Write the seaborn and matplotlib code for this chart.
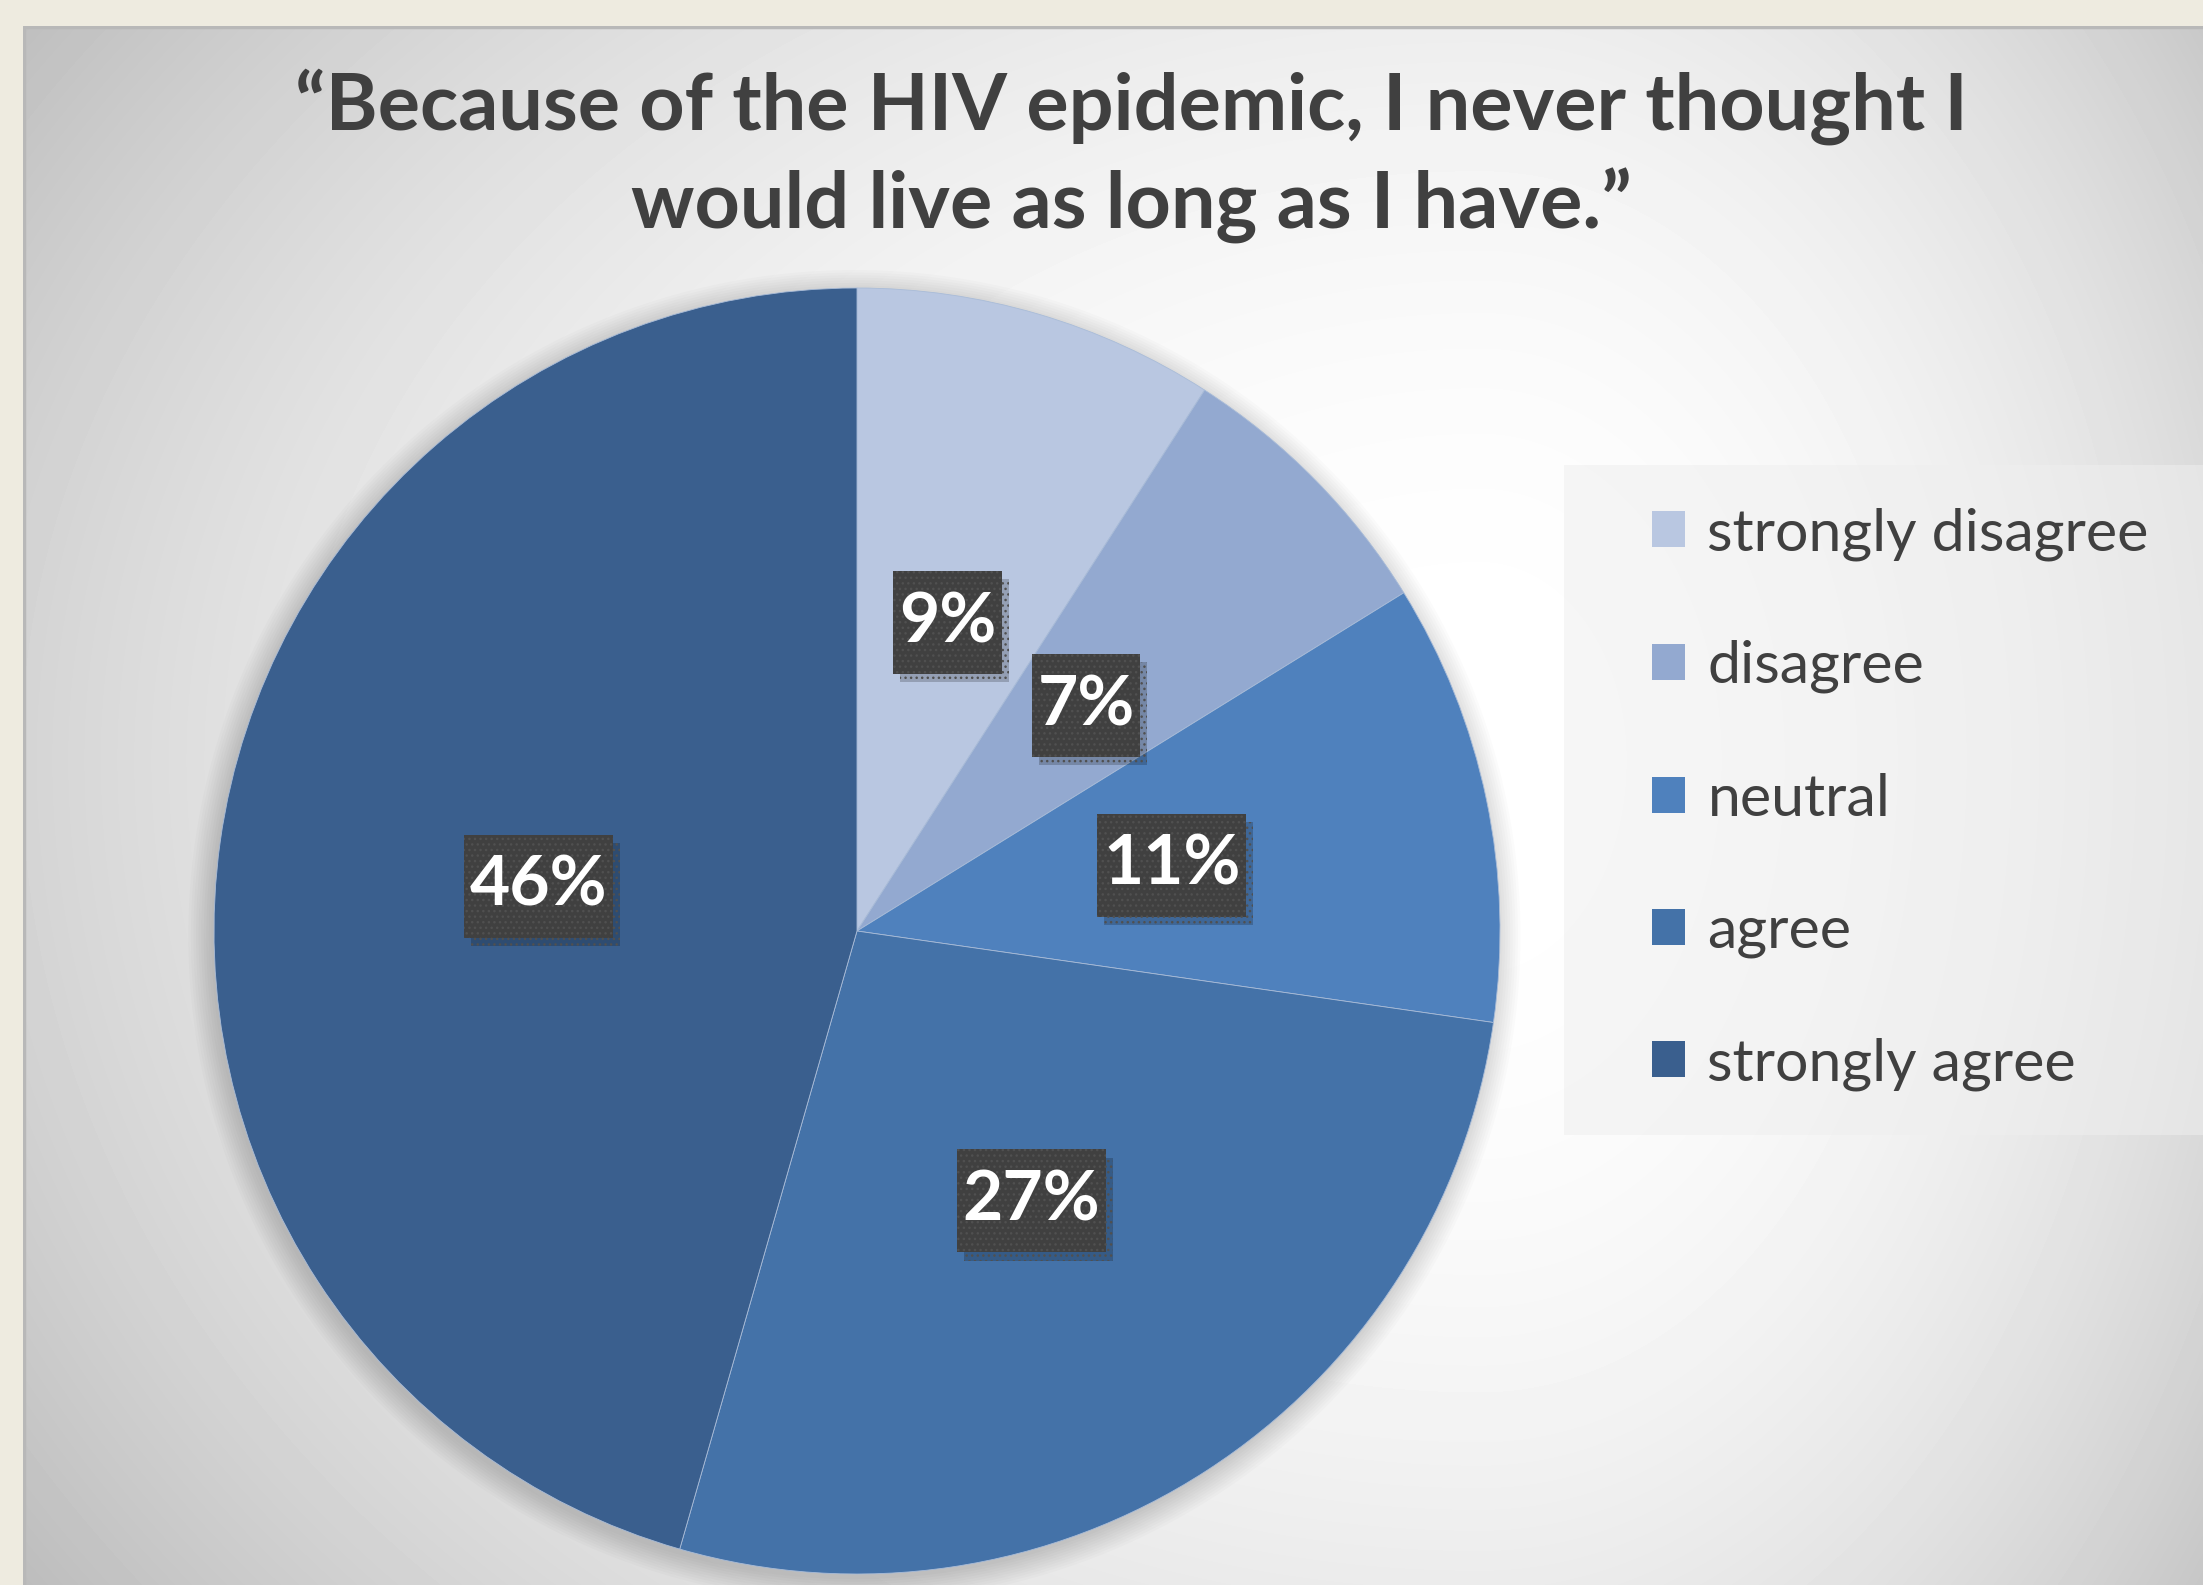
# HIV survey pie chart: "I never thought I would live as long as I have"
import numpy as np
import matplotlib.pyplot as plt
import matplotlib.patheffects as pe
from matplotlib.patches import Rectangle, Circle
import seaborn as sns

# ---------------------------
# Data (shares; labels round them)
# ---------------------------
categories = ["strongly disagree", "disagree", "neutral", "agree", "strongly agree"]
percents = [9.1, 7.1, 11.1, 27.2, 45.6]
slice_colors = ["#B9C7E1", "#93A9D0", "#4F81BD", "#4472A8", "#3A5F8E"]
title = "\u201cBecause of the HIV epidemic, I never thought I\nwould live as long as I have.\u201d"

# ---------------------------
# Style
# ---------------------------
sns.set_theme(style="white")
plt.rcParams["font.family"] = ["Lato", "DejaVu Sans"]
palette = sns.color_palette(slice_colors)
text_col = "#404040"

W, H = 2203, 1585
fig = plt.figure(figsize=(W / 100, H / 100), dpi=100)
fig.patch.set_facecolor("#EEEBE0")

# panel with soft radial gradient (pixel coords, y down)
x0, y0 = 23, 26
bg = fig.add_axes([x0 / W, 0, 1 - x0 / W, (H - y0) / H])
xs = np.arange(x0, W) + 0.5
ys = np.arange(y0, H) + 0.5
X, Y = np.meshgrid(xs, ys)
cx, cy = 1480, 760
sx = np.where(X < cx, 1800, 1000)
sy = np.where(Y < cy, 1350, 1450)
d2 = ((X - cx) / sx) ** 2 + ((Y - cy) / sy) ** 2
val = np.clip(255 - 68 * d2 ** 1.1, 185, 255) / 255
bg.imshow(val, cmap="gray", vmin=0, vmax=1, extent=(x0, W, H, y0),
          aspect="auto", interpolation="bilinear")
bg.set_xlim(x0, W)
bg.set_ylim(H, y0)
bg.plot([x0 + 1, x0 + 1, W], [H, y0 + 1, y0 + 1], color="#B8B8B8", lw=2.5)
bg.add_patch(Rectangle((1564, 465), W - 1564, 670, facecolor="#EFEFEF",
                       alpha=0.55, edgecolor="none"))
bg.axis("off")

# ---------------------------
# Pie
# ---------------------------
pcx, pcy, r = 857, 931, 643
ax = fig.add_axes([(pcx - r) / W, (H - pcy - r) / H, 2 * r / W, 2 * r / H])

# soft shadow around the pie
for i in range(10):
    ax.add_patch(Circle((-0.004, -0.008), 1 + i * 0.004, facecolor="black",
                        alpha=0.014, edgecolor="none", zorder=0, clip_on=False))

wedges, texts, autotexts = ax.pie(
    percents, colors=palette, startangle=90, counterclock=False,
    autopct="%.0f%%", pctdistance=0.5,
    wedgeprops=dict(edgecolor="#A9BCD8", linewidth=0.6, zorder=2),
)
ax.set_xlim(-1, 1)
ax.set_ylim(-1, 1)
ax.set_aspect("auto")

for t in autotexts:
    t.set(color="white", fontsize=50, fontweight="bold", zorder=5)
    t.set_bbox(dict(boxstyle="square,pad=0.08", mutation_aspect=3.6,
                    facecolor="#404040", edgecolor="#505050", hatch="...",
                    linewidth=0))
    t.get_bbox_patch().set_path_effects(
        [pe.SimplePatchShadow(offset=(5, -6), shadow_rgbFace="black", alpha=0.2),
         pe.Normal()])

# ---------------------------
# Legend and title
# ---------------------------
leg = ax.legend(
    wedges, categories, loc="center left",
    bbox_to_anchor=(1652 / W, 1 - 799 / H), bbox_transform=fig.transFigure,
    frameon=False, prop={"family": "Lato", "size": 42.5},
    labelspacing=1.34, handlelength=0.56, handleheight=0.56, handletextpad=0.38,
    borderpad=0, borderaxespad=0, labelcolor=text_col,
)
for h in leg.legend_handles:
    h.set_edgecolor("none")

fig.text(1131 / W, 1 - 156 / H, title, ha="center", va="center",
         fontsize=57, fontweight="bold", color=text_col, linespacing=1.38)

fig.savefig("out.png", dpi=100, facecolor=fig.get_facecolor())
